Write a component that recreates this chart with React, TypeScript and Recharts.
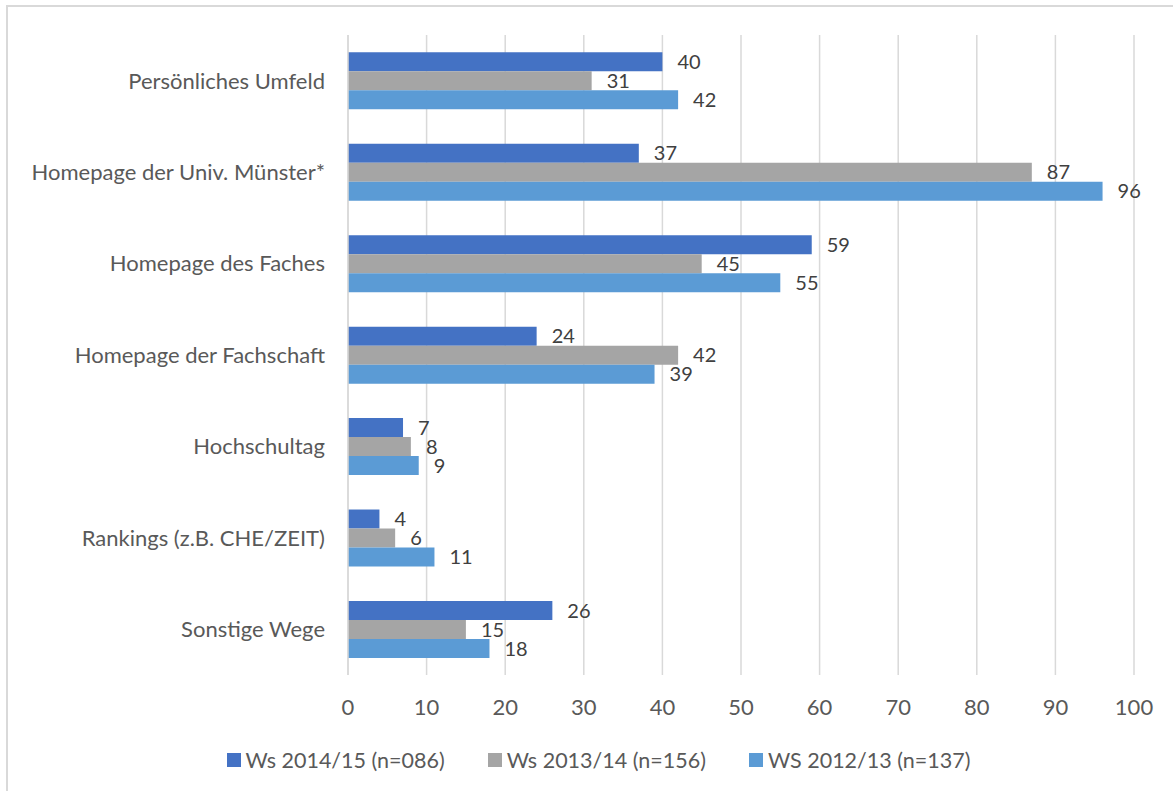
import React from "react";
import { BarChart, Bar, XAxis, YAxis, CartesianGrid, LabelList, Legend } from "recharts";

const categories = [
  "Persönliches Umfeld",
  "Homepage der Univ. Münster*",
  "Homepage des Faches",
  "Homepage der Fachschaft",
  "Hochschultag",
  "Rankings (z.B. CHE/ZEIT)",
  "Sonstige Wege",
];
const ws1415 = [40, 37, 59, 24, 7, 4, 26];
const ws1314 = [31, 87, 45, 42, 8, 6, 15];
const ws1213 = [42, 96, 55, 39, 9, 11, 18];
const xTicks = [0, 10, 20, 30, 40, 50, 60, 70, 80, 90, 100];

const seriesNames = ["Ws 2014/15 (n=086)", "Ws 2013/14 (n=156)", "WS 2012/13 (n=137)"];
const seriesColors = ["#4472C4", "#A5A5A5", "#5B9BD5"];

const data = categories.map((c, i) => ({
  name: c,
  a: ws1415[i],
  b: ws1314[i],
  c: ws1213[i],
}));

const FONT = "Lato, 'Open Sans', sans-serif";

const LegendContent = () => (
  <div
    style={{
      display: "flex",
      justifyContent: "center",
      alignItems: "center",
      height: 40,
      fontFamily: FONT,
      fontSize: 21.5,
      color: "#595959",
      paddingLeft: 55,
    }}
  >
    {seriesNames.map((n, i) => (
      <div key={n} style={{ display: "flex", alignItems: "center", marginLeft: i === 0 ? 0 : 43 }}>
        <span style={{ display: "inline-block", width: 14, height: 14, background: seriesColors[i], marginRight: 5 }} />
        <span>{n}</span>
      </div>
    ))}
  </div>
);

export default function App() {
  return (
    <div style={{ position: "absolute", left: 0, top: 0, width: 1173, height: 791, background: "#fff" }}>
      <div
        style={{
          position: "absolute",
          left: 6,
          top: 5,
          width: 1170,
          height: 790,
          border: "2px solid #d9d9d9",
          boxSizing: "border-box",
        }}
      />
      <div style={{ position: "absolute", left: 0, top: 0 }}>
        <BarChart
          width={1173}
          height={791}
          data={data}
          layout="vertical"
          margin={{ top: 35, right: 39, left: 8, bottom: 11 }}
          barCategoryGap="19%"
          barGap={0}
        >
          <CartesianGrid horizontal={false} stroke="#d9d9d9" strokeWidth={1.5} />
          <XAxis
            type="number"
            domain={[0, 100]}
            ticks={xTicks}
            interval={0}
            axisLine={false}
            tickLine={false}
            tickMargin={18}
            height={65}
            tick={{ fill: "#595959", fontSize: 22, fontFamily: FONT }}
          />
          <YAxis
            type="category"
            dataKey="name"
            width={340}
            axisLine={{ stroke: "#d9d9d9", strokeWidth: 1.5 }}
            tickLine={false}
            tickMargin={17}
            tick={{ fill: "#595959", fontSize: 22, fontFamily: FONT }}
          />
          <Legend verticalAlign="bottom" height={40} content={<LegendContent />} />
          <Bar dataKey="a" name={seriesNames[0]} fill={seriesColors[0]} isAnimationActive={false}>
            <LabelList dataKey="a" position="right" offset={15} fill="#404040" fontSize={20} fontFamily={FONT} />
          </Bar>
          <Bar dataKey="b" name={seriesNames[1]} fill={seriesColors[1]} isAnimationActive={false}>
            <LabelList dataKey="b" position="right" offset={15} fill="#404040" fontSize={20} fontFamily={FONT} />
          </Bar>
          <Bar dataKey="c" name={seriesNames[2]} fill={seriesColors[2]} isAnimationActive={false}>
            <LabelList dataKey="c" position="right" offset={15} fill="#404040" fontSize={20} fontFamily={FONT} />
          </Bar>
        </BarChart>
      </div>
    </div>
  );
}
